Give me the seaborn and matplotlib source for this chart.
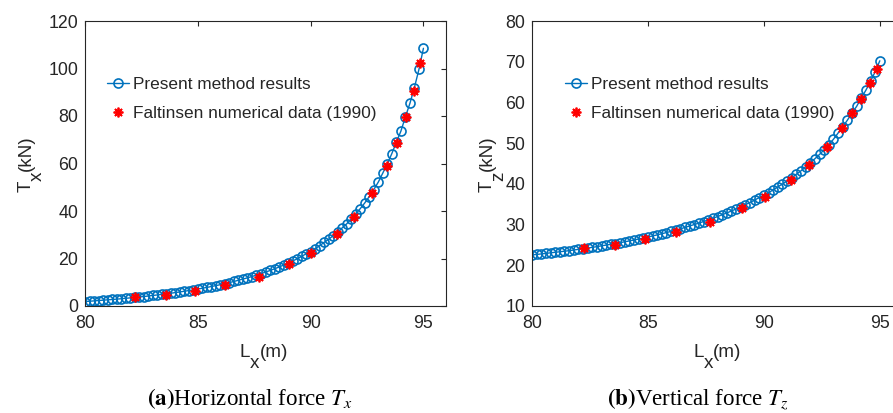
import numpy as np
import pandas as pd
import matplotlib
matplotlib.use("Agg")
import matplotlib.pyplot as plt
import seaborn as sns

# Horizontal distance to the anchor L_x (m) for the present method
lx = [80.0, 80.2, 80.4, 80.6, 80.8, 81.0, 81.2, 81.4, 81.6, 81.8,
      82.0, 82.2, 82.4, 82.6, 82.8, 83.0, 83.2, 83.4, 83.6, 83.8,
      84.0, 84.2, 84.4, 84.6, 84.8, 85.0, 85.2, 85.4, 85.6, 85.8,
      86.0, 86.2, 86.4, 86.6, 86.8, 87.0, 87.2, 87.4, 87.6, 87.8,
      88.0, 88.2, 88.4, 88.6, 88.8, 89.0, 89.2, 89.4, 89.6, 89.8,
      90.0, 90.2, 90.4, 90.6, 90.8, 91.0, 91.2, 91.4, 91.6, 91.8,
      92.0, 92.2, 92.4, 92.6, 92.8, 93.0, 93.2, 93.4, 93.6, 93.8,
      94.0, 94.2, 94.4, 94.6, 94.8, 95.0]

# Horizontal force T_x (kN), present method
tx_present = [1.88, 2.01, 2.15, 2.30, 2.45, 2.60, 2.74, 2.89, 3.05, 3.23,
              3.42, 3.61, 3.79, 3.98, 4.20, 4.43, 4.65, 4.88, 5.12, 5.38,
              5.64, 5.91, 6.20, 6.50, 6.80, 7.12, 7.47, 7.82, 8.20, 8.59,
              8.98, 9.41, 9.85, 10.33, 10.84, 11.34, 11.85, 12.42, 13.01, 13.61,
              14.25, 14.95, 15.65, 16.41, 17.22, 18.05, 18.95, 19.86, 20.90, 21.97,
              22.9, 24.1, 25.4, 26.8, 28.1, 29.6, 31.2, 32.9, 34.6, 36.6,
              38.7, 41.0, 43.4, 46.1, 49.0, 52.2, 56.0, 59.9, 64.2, 69.0,
              73.6, 79.6, 85.3, 92.0, 99.6, 108.5]

# Vertical force T_z (kN), present method
tz_present = [22.54, 22.66, 22.79, 22.92, 23.06, 23.19, 23.32, 23.45, 23.59, 23.75,
              23.91, 24.08, 24.23, 24.40, 24.58, 24.78, 24.96, 25.15, 25.35, 25.56,
              25.77, 25.99, 26.22, 26.45, 26.69, 26.94, 27.20, 27.47, 27.75, 28.04,
              28.33, 28.64, 28.96, 29.30, 29.66, 30.01, 30.36, 30.75, 31.14, 31.54,
              31.96, 32.41, 32.86, 33.33, 33.83, 34.34, 34.88, 35.41, 36.02, 36.63,
              37.15, 37.82, 38.52, 39.27, 39.95, 40.72, 41.53, 42.37, 43.20, 44.15,
              45.12, 46.17, 47.23, 48.41, 49.63, 50.95, 52.48, 54.00, 55.63, 57.39,
              59.03, 61.10, 63.01, 65.18, 67.55, 70.23]

# Faltinsen (1990) numerical data
lx_ref = [82.23, 83.6, 84.89, 86.22, 87.69, 89.04, 90.03, 91.15, 91.94, 92.72,
          93.37, 93.81, 94.21, 94.57, 94.86]
tx_ref = [3.65, 4.77, 6.3, 8.8, 12.35, 17.5, 22.4, 30.3, 37.6, 47.7,
          59.1, 68.8, 79.7, 90.7, 102.2]
tz_ref = [24.17, 25.0, 26.4, 28.25, 30.7, 34.0, 36.85, 40.95, 44.6, 49.05,
          53.65, 57.3, 60.9, 64.7, 68.2]

present = pd.DataFrame({"lx": lx, "tx": tx_present, "tz": tz_present})
faltinsen = pd.DataFrame({"lx": lx_ref, "tx": tx_ref, "tz": tz_ref})

sns.set_style("white")
plt.rcParams["font.family"] = ["Liberation Sans", "DejaVu Sans"]
plt.rcParams["mathtext.fontset"] = "stix"

BLUE = "#0072BD"
RED = "#FF0000"
DARK = "#262626"
TICK_FS = 12.8
LABEL_FS = 13.6
SUB_DROP = 11.0  # px the subscript sits below the baseline

W, H = 893, 413
fig = plt.figure(figsize=(W / 100, H / 100), dpi=100)
renderer = fig.canvas.get_renderer()


def px_axes(left, top, right, bottom):
    return fig.add_axes([left / W, 1 - bottom / H, (right - left) / W, (bottom - top) / H])


def sub_label(parts, center, baseline, vertical=False):
    """Write a label whose middle part is a full-size subscript.

    center / baseline are pixel positions measured from the top-left corner.
    For vertical labels the text reads bottom-to-top, center is the pixel row
    and baseline the pixel column.
    """
    rot = 90 if vertical else 0
    texts = []
    for s, _ in parts:
        t = fig.text(0, 0, s, fontsize=LABEL_FS, color=DARK, rotation=rot,
                     rotation_mode="anchor", ha="left", va="baseline")
        texts.append(t)
    sizes = []
    for t in texts:
        bb = t.get_window_extent(renderer)
        sizes.append(bb.height if vertical else bb.width)
    total = sum(sizes)
    pos = 0.0
    for (s, is_sub), t, size in zip(parts, texts, sizes):
        drop = SUB_DROP if is_sub else 0.0
        if vertical:
            y_up = (H - center) - total / 2 + pos
            t.set_position(((baseline + drop) / W, y_up / H))
        else:
            x = center - total / 2 + pos
            t.set_position((x / W, 1 - (baseline + drop) / H))
        pos += size


ax1 = px_axes(85, 21, 446, 306)
ax2 = px_axes(532, 21, 903, 306)

panels = [
    (ax1, "tx", (0, 120), np.arange(0, 121, 20), "x", 0.061),
    (ax2, "tz", (10, 80), np.arange(10, 81, 10), "z", 0.089),
]

for ax, col, ylim, yticks, sub, leg_x in panels:
    sns.lineplot(data=present, x="lx", y=col, ax=ax, sort=False, color=BLUE,
                 lw=1.0, marker="o", markersize=6.5, markerfacecolor="none",
                 markeredgecolor=BLUE, markeredgewidth=1.2,
                 label="Present method results")
    sns.lineplot(data=faltinsen, x="lx", y=col, ax=ax, sort=False, color=RED,
                 linestyle="", marker=(8, 2, 0), markersize=7.0,
                 markeredgecolor=RED, markeredgewidth=1.3,
                 label="Faltinsen numerical data (1990)")
    ax.set_xlim(80, 96)
    ax.set_ylim(*ylim)
    ax.set_xticks([80, 85, 90, 95])
    ax.set_yticks(yticks)
    ax.tick_params(direction="in", length=3.5, width=0.8, colors=DARK,
                   labelsize=TICK_FS, top=True, right=True)
    ax.tick_params(axis="x", pad=6.5)
    ax.tick_params(axis="y", pad=5.0)
    for s in ax.spines.values():
        s.set_visible(True)
        s.set_color(DARK)
        s.set_linewidth(0.8)
    ax.set_xlabel("")
    ax.set_ylabel("")
    handles, labels = ax.get_legend_handles_labels()
    ax.legend(handles, labels, loc="upper left", bbox_to_anchor=(leg_x, 0.805),
              frameon=False, fontsize=12.4, borderpad=0, borderaxespad=0,
              handlelength=1.3, handletextpad=0.2, labelspacing=0.85)

# axis titles with dropped subscripts
sub_label([("L", False), ("x", True), ("(m)", False)], 264, 356.7)
sub_label([("L", False), ("x", True), ("(m)", False)], 717.5, 356.7)
sub_label([("T", False), ("x", True), ("(kN)", False)], 164, 31, vertical=True)
sub_label([("T", False), ("z", True), ("(kN)", False)], 164, 492, vertical=True)

cap_kw = dict(ha="center", va="baseline", fontsize=16.6, color="black",
              family=["Liberation Serif", "DejaVu Serif"])
fig.text(250 / W, 1 - 405 / H, r"$\mathbf{(a)}$Horizontal force $T_x$", **cap_kw)
fig.text(697.5 / W, 1 - 405 / H, r"$\mathbf{(b)}$Vertical force $T_z$", **cap_kw)

fig.savefig("out.png", dpi=100)
